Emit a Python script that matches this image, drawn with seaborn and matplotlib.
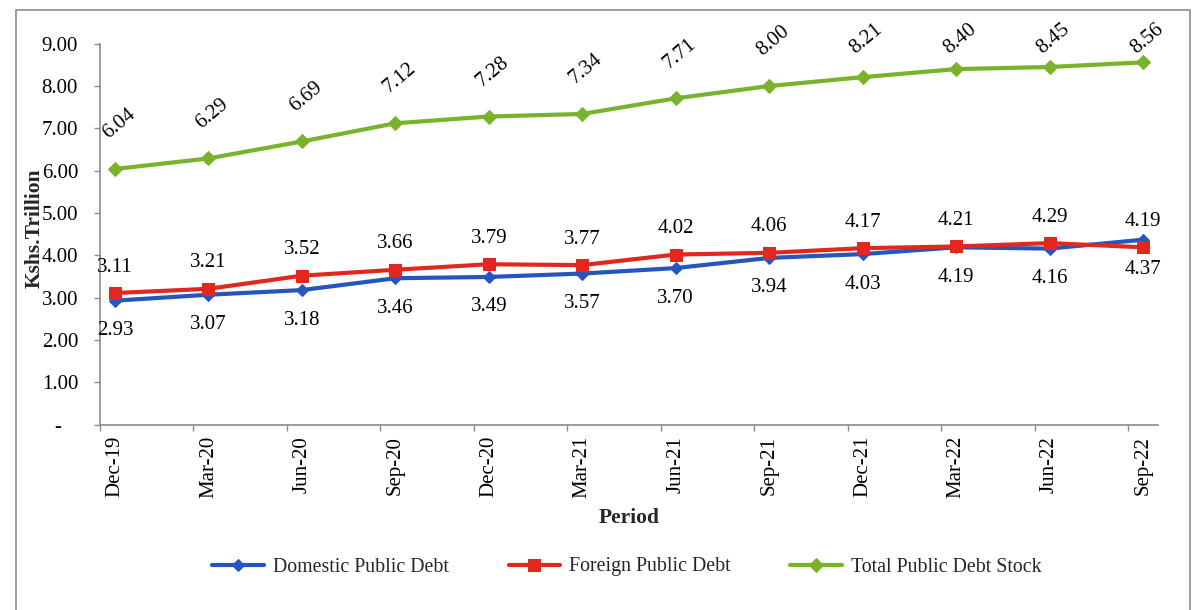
import numpy as np
import pandas as pd
import matplotlib
matplotlib.use("Agg")
import matplotlib.pyplot as plt
import seaborn as sns
from matplotlib.patches import Rectangle

# ---------------- data ----------------
periods = ["Dec-19", "Mar-20", "Jun-20", "Sep-20", "Dec-20", "Mar-21",
           "Jun-21", "Sep-21", "Dec-21", "Mar-22", "Jun-22", "Sep-22"]
domestic = [2.93, 3.07, 3.18, 3.46, 3.49, 3.57, 3.70, 3.94, 4.03, 4.19, 4.16, 4.37]
foreign = [3.11, 3.21, 3.52, 3.66, 3.79, 3.77, 4.02, 4.06, 4.17, 4.21, 4.29, 4.19]
total = [6.04, 6.29, 6.69, 7.12, 7.28, 7.34, 7.71, 8.00, 8.21, 8.40, 8.45, 8.56]
series_names = ["Domestic Public Debt", "Foreign Public Debt", "Total Public Debt Stock"]
ytick_values = [0, 1, 2, 3, 4, 5, 6, 7, 8, 9]
ytick_labels = ["-   ", "1.00", "2.00", "3.00", "4.00", "5.00", "6.00", "7.00", "8.00", "9.00"]
y_title = "Kshs.Trillion"
x_title = "Period"

# ---------------- style ----------------
sns.set_theme(style="white")
plt.rcParams["font.family"] = ["Liberation Serif", "DejaVu Serif"]
plt.rcParams["font.size"] = 15

BLUE = "#2456BE"
RED = "#E2281E"
GREEN = "#79B32B"
AXIS_GREY = "#8A8A8A"

TICK_FS = 15
LABEL_FS = 15
TITLE_FS = 15.5
LEGEND_FS = 14.3

W, H = 1192, 610
fig = plt.figure(figsize=(W / 100, H / 100), dpi=100)
fig.patch.set_facecolor("white")

ax_left, ax_right, ax_top, ax_bottom = 100, 1158, 43.7, 424.7
ax = fig.add_axes([ax_left / W, (H - ax_bottom) / H,
                   (ax_right - ax_left) / W, (ax_bottom - ax_top) / H])
ax.set_facecolor("white")

df = pd.DataFrame({
    "pos": np.arange(len(periods)),
    series_names[0]: domestic,
    series_names[1]: foreign,
    series_names[2]: total,
})

specs = [
    (series_names[0], BLUE, "D", 6.0),
    (series_names[1], RED, "s", 8.0),
    (series_names[2], GREEN, "D", 7.5),
]
for name, col, mk, ms in specs:
    sns.lineplot(data=df, x="pos", y=name, ax=ax, color=col, linewidth=3.0,
                 marker=mk, markersize=ms, markeredgecolor=col,
                 markerfacecolor=col, label=name)

ax.set_xlim(-0.16, len(periods) - 1 + 0.16)
ax.set_ylim(0, 9)

# axes styling
for s in ["top", "right"]:
    ax.spines[s].set_visible(False)
for s in ["left", "bottom"]:
    ax.spines[s].set_color(AXIS_GREY)
    ax.spines[s].set_linewidth(1.2)

ax.set_yticks(ytick_values)
ax.set_yticklabels(ytick_labels, fontsize=TICK_FS)
ax.tick_params(axis="y", which="major", length=4.3, width=1.0, color=AXIS_GREY,
               pad=11.5, left=True, labelcolor="black")

ax.set_xticks(np.arange(len(periods)))
ax.set_xticklabels(periods, rotation=90, fontsize=TICK_FS)
ax.tick_params(axis="x", which="major", length=0, pad=8.0, labelcolor="black")
ax.set_xticks(np.arange(len(periods)) - 0.16, minor=True)
ax.tick_params(axis="x", which="minor", length=4, width=1.0, color=AXIS_GREY,
               bottom=True)
ax.set_xlabel("")
ax.set_ylabel("")
ax.grid(False)

# data labels
px_per_unit = (ax_bottom - ax_top) / 9.0
for i, v in enumerate(foreign):
    ax.annotate(f"{v:.2f}", (i, v), xytext=(0, 26), textcoords="offset pixels",
                ha="center", va="center", fontsize=LABEL_FS, color="black")
for i, v in enumerate(domestic):
    ax.annotate(f"{v:.2f}", (i, v), xytext=(0, -30), textcoords="offset pixels",
                ha="center", va="center", fontsize=LABEL_FS, color="black")
y_cap = 9 + (ax_top - 39) / px_per_unit
for i, v in enumerate(total):
    ly = min(v + 45 / px_per_unit, y_cap)
    ax.annotate(f"{v:.2f}", (i, v), xytext=(i + 4 / 93.5, ly), textcoords="data",
                ha="center", va="center", fontsize=LABEL_FS, rotation=40,
                color="black", annotation_clip=False)

# titles
fig.text(35 / W, 1 - 228 / H, y_title, rotation=90, ha="center", va="center",
         fontsize=TITLE_FS, fontweight="bold")
fig.text(629 / W, 1 - 518 / H, x_title, ha="center", va="center",
         fontsize=TITLE_FS, fontweight="bold")

# legend
handles, labels = ax.get_legend_handles_labels()
if ax.get_legend() is not None:
    ax.get_legend().remove()
fig.legend(handles, labels, loc="center", bbox_to_anchor=(627 / W, 1 - 567 / H),
           ncol=3, frameon=False, fontsize=LEGEND_FS, handlelength=2.6,
           handletextpad=0.45, columnspacing=3.0, numpoints=1)

# outer frame
frame = Rectangle((16 / W, -0.1), (1190 - 16) / W, (H - 10) / H + 0.1,
                  transform=fig.transFigure, fill=False, edgecolor="#8C8C8C",
                  linewidth=1.2, clip_on=False)
fig.add_artist(frame)

fig.savefig("out.png", dpi=100, facecolor="white")
